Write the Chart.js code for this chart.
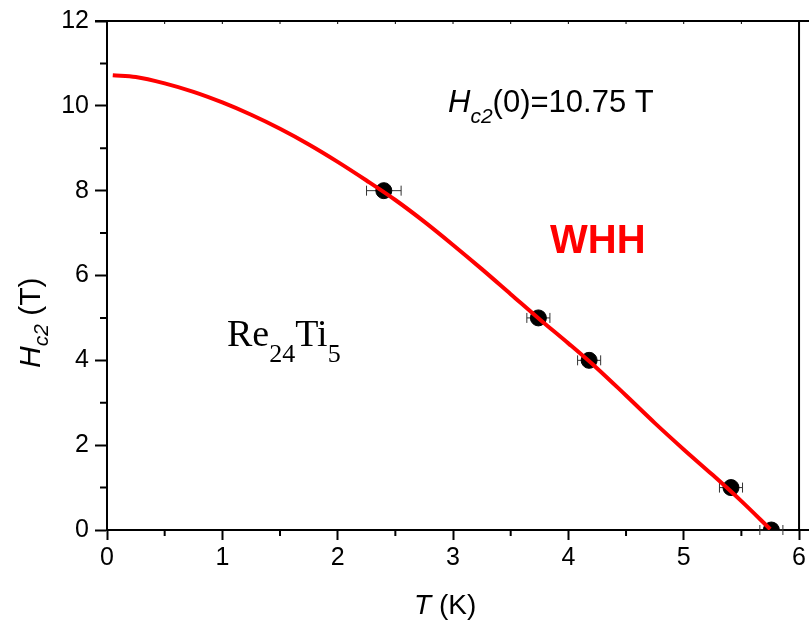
<!DOCTYPE html>
<html>
<head>
<meta charset="utf-8">
<script src="https://cdn.jsdelivr.net/npm/chart.js@4/dist/chart.umd.min.js"></script>
<style>
  body { margin: 0; background: #fff; }
  canvas { display: block; }
</style>
</head>
<body>
<canvas id="myChart" width="809" height="624"></canvas>
<script>
// WHH fit curve
const curveT = [0.05, 0.25, 0.5, 0.75, 1.0, 1.25, 1.5, 1.75, 2.0, 2.25, 2.5, 2.75, 3.0, 3.25, 3.5, 3.75, 4.0, 4.25, 4.5, 4.75, 5.0, 5.25, 5.5, 5.75];
const curveH = [10.72, 10.68, 10.53, 10.33, 10.08, 9.79, 9.46, 9.09, 8.68, 8.24, 7.78, 7.27, 6.72, 6.15, 5.56, 4.97, 4.40, 3.81, 3.17, 2.52, 1.90, 1.30, 0.68, 0.02];

// measured points with horizontal error bars
const pointT = [2.40, 3.74, 4.18, 5.41, 5.76];
const pointH = [8, 5, 4, 1, 0];
const pointTErr = [0.15, 0.10, 0.10, 0.10, 0.10];

const SANS = "'Liberation Sans', Arial, sans-serif";
const SERIF = "'Liberation Serif', 'Times New Roman', serif";

// draws text made of several pieces (italic, subscript ...) left to right
function drawRich(ctx, x, y, parts) {
    let cx = x;
    parts.forEach(p => {
        ctx.font = p.font;
        ctx.fillStyle = p.color || '#000';
        ctx.fillText(p.t, cx, y + (p.dy || 0));
        cx += ctx.measureText(p.t).width;
    });
}

const extras = {
    id: 'extras',
    beforeDatasetsDraw(chart) {
        const ctx = chart.ctx;
        const xs = chart.scales.x, ys = chart.scales.y;
        ctx.save();
        ctx.strokeStyle = '#333';
        ctx.lineWidth = 1;
        pointT.forEach((t, i) => {
            const y = ys.getPixelForValue(pointH[i]);
            const x1 = xs.getPixelForValue(t - pointTErr[i]);
            const x2 = xs.getPixelForValue(t + pointTErr[i]);
            ctx.beginPath();
            ctx.moveTo(x1, y); ctx.lineTo(x2, y);
            ctx.moveTo(x1, y - 5); ctx.lineTo(x1, y + 5);
            ctx.moveTo(x2, y - 5); ctx.lineTo(x2, y + 5);
            ctx.stroke();
        });
        ctx.restore();
    },
    afterDraw(chart) {
        const ctx = chart.ctx;
        const a = chart.chartArea;
        const xs = chart.scales.x, ys = chart.scales.y;
        ctx.save();
        ctx.strokeStyle = '#000';
        ctx.lineWidth = 2;
        // frame: top and right
        ctx.beginPath();
        ctx.moveTo(a.left - 12, a.top); ctx.lineTo(809, a.top);
        ctx.moveTo(a.right, a.top); ctx.lineTo(a.right, a.bottom);
        ctx.moveTo(a.right, a.bottom); ctx.lineTo(809, a.bottom);
        ctx.stroke();
        // minor ticks
        ctx.beginPath();
        for (let v = 0.5; v < 6; v += 1) {
            const x = xs.getPixelForValue(v);
            ctx.moveTo(x, a.bottom); ctx.lineTo(x, a.bottom + 6);
        }
        for (let v = 1; v < 12; v += 2) {
            const y = ys.getPixelForValue(v);
            ctx.moveTo(a.left, y); ctx.lineTo(a.left - 7, y);
        }
        ctx.stroke();
        ctx.lineWidth = 1;
        ctx.beginPath();
        for (let v = 0.5; v < 6; v += 0.5) {
            const x = xs.getPixelForValue(v);
            ctx.moveTo(x, a.top); ctx.lineTo(x, a.top + 3);
        }
        ctx.stroke();

        ctx.textBaseline = 'alphabetic';
        ctx.textAlign = 'left';
        // x axis title
        drawRich(ctx, 414, 614, [
            { t: 'T', font: 'italic 28px ' + SANS },
            { t: ' (K)', font: '28px ' + SANS }
        ]);
        // y axis title
        ctx.save();
        ctx.translate(40, 368);
        ctx.rotate(-Math.PI / 2);
        drawRich(ctx, 0, 0, [
            { t: 'H', font: 'italic 30px ' + SANS },
            { t: 'c2', font: 'italic 21px ' + SANS, dy: 8 },
            { t: ' (T)', font: '30px ' + SANS }
        ]);
        ctx.restore();
        // annotations
        drawRich(ctx, 448, 112, [
            { t: 'H', font: 'italic 31px ' + SANS },
            { t: 'c2', font: 'italic 21px ' + SANS, dy: 11 },
            { t: '(0)=10.75 T', font: '31px ' + SANS }
        ]);
        drawRich(ctx, 550, 253, [
            { t: 'WHH', font: 'bold 40px ' + SANS, color: '#ff0000' }
        ]);
        drawRich(ctx, 227, 346, [
            { t: 'Re', font: '38px ' + SERIF },
            { t: '24', font: '26px ' + SERIF, dy: 16 },
            { t: 'Ti', font: '38px ' + SERIF },
            { t: '5', font: '26px ' + SERIF, dy: 16 }
        ]);
        ctx.restore();
    }
};

new Chart(document.getElementById('myChart'), {
    type: 'scatter',
    data: {
        datasets: [
            {
                type: 'line',
                label: 'WHH',
                data: curveT.map((t, i) => ({ x: t, y: curveH[i] })),
                borderColor: '#ff0000',
                borderWidth: 4,
                pointRadius: 0,
                fill: false,
                cubicInterpolationMode: 'monotone'
            },
            {
                label: 'data',
                data: pointT.map((t, i) => ({ x: t, y: pointH[i] })),
                backgroundColor: '#000',
                borderColor: '#000',
                pointRadius: 8,
                pointHoverRadius: 8
            }
        ]
    },
    options: {
        responsive: false,
        animation: false,
        layout: { padding: { top: 18, right: 9, left: 0, bottom: 0 } },
        plugins: {
            legend: { display: false },
            tooltip: { enabled: false }
        },
        scales: {
            x: {
                type: 'linear',
                min: 0,
                max: 6,
                ticks: { stepSize: 1, color: '#000', padding: 3, font: { family: SANS, size: 25 } },
                grid: { drawOnChartArea: false, tickLength: 10, tickWidth: 2, tickColor: '#000' },
                border: { color: '#000', width: 2 },
                afterFit: s => { s.height = 94; }
            },
            y: {
                min: 0,
                max: 12,
                ticks: { stepSize: 2, color: '#000', padding: 6, font: { family: SANS, size: 25 } },
                grid: { drawOnChartArea: false, tickLength: 12, tickWidth: 2, tickColor: '#000' },
                border: { color: '#000', width: 2 },
                afterFit: s => { s.width = 107; }
            }
        }
    },
    plugins: [extras]
});
</script>
</body>
</html>
